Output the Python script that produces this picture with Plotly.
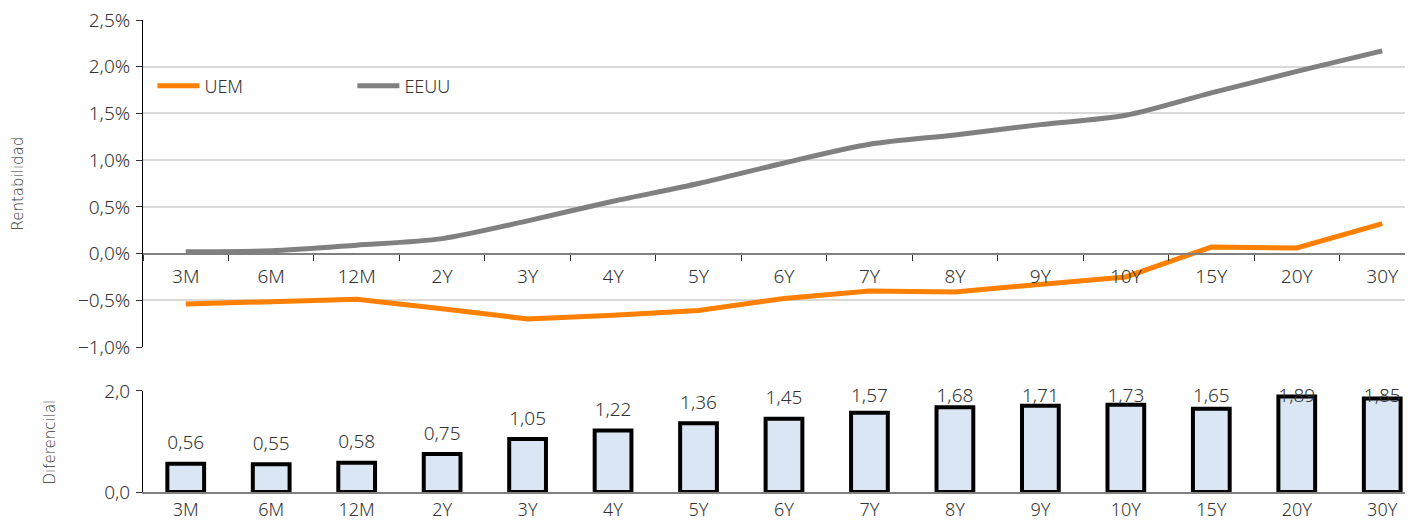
import plotly.graph_objects as go
import numpy as np

categories = ["3M", "6M", "12M", "2Y", "3Y", "4Y", "5Y", "6Y", "7Y", "8Y", "9Y", "10Y", "15Y", "20Y", "30Y"]
uem = [-0.54, -0.52, -0.49, -0.59, -0.70, -0.66, -0.61, -0.48, -0.40, -0.41, -0.33, -0.25, 0.07, 0.06, 0.32]
eeuu = [0.02, 0.03, 0.09, 0.16, 0.35, 0.56, 0.75, 0.97, 1.17, 1.27, 1.38, 1.48, 1.72, 1.95, 2.17]
diferencial = [0.56, 0.55, 0.58, 0.75, 1.05, 1.22, 1.36, 1.45, 1.57, 1.68, 1.71, 1.73, 1.65, 1.89, 1.85]

FONT = "Noto Sans"
FW = 300
TXT = "#333333"
# page has an 8px body margin: figure occupies page pixels 8..1413 x 8..520
W, H = 1405, 512
ML, MR, MT, MB = 135, 0, 12, 28
PW = W - ML - MR
top_dom = [0.3072, 1.0]
bot_dom = [0.0, 0.214]
top_rng = [-1.0, 2.5]
bot_rng = [0.0, 2.0]
zero_pos = top_dom[0] + (0 - top_rng[0]) / (top_rng[1] - top_rng[0]) * (top_dom[1] - top_dom[0])
xr = [-0.5, 14.36]

tf = dict(family=FONT, size=19, color=TXT, weight=FW)

fig = go.Figure()
fig.add_trace(go.Scatter(x=categories, y=uem, name="UEM", mode="lines",
                         line=dict(color="#FF8000", width=5), xaxis="x", yaxis="y"))
fig.add_trace(go.Scatter(x=categories, y=eeuu, name="EEUU", mode="lines",
                         line=dict(color="#808080", width=5, shape="spline", smoothing=0.8),
                         xaxis="x", yaxis="y"))
fig.add_trace(go.Bar(x=categories, y=diferencial, width=0.43, showlegend=False,
                     marker=dict(color="#DAE6F4", line=dict(color="#000000", width=4)),
                     xaxis="x2", yaxis="y2"))
# data labels, clamped inside the plot area like the original
lab_y = np.minimum(np.array(diferencial) + 0.38, 1.88)
fig.add_trace(go.Scatter(x=categories, y=lab_y, mode="text", showlegend=False,
                         text=[f"{v:.2f}".replace(".", ",") for v in diferencial],
                         textfont=dict(family=FONT, size=19, color=TXT, weight=FW),
                         textposition="middle center", cliponaxis=False,
                         xaxis="x2", yaxis="y2"))

fig.update_layout(
    width=W, height=H, autosize=False,
    margin=dict(l=ML, r=MR, t=MT, b=MB, pad=0, autoexpand=False),
    paper_bgcolor="white", plot_bgcolor="white",
    separators=",.",
    font=tf,
    showlegend=True,
    legend=dict(orientation="h", x=0.0074, y=0.86, xanchor="left", yanchor="middle",
                entrywidth=143, itemwidth=42,
                font=dict(family=FONT, size=18, color=TXT, weight=FW),
                bgcolor="rgba(0,0,0,0)"),
    xaxis=dict(domain=[0, 1], range=xr, anchor="free", position=zero_pos, automargin=False,
               showline=True, linecolor="#808080", linewidth=2,
               ticks="outside", tickson="boundaries", ticklen=6, tickcolor="#333333",
               ticklabelstandoff=6, showgrid=False, zeroline=False, tickfont=tf),
    yaxis=dict(domain=top_dom, range=top_rng, tick0=0, dtick=0.5, tickformat=".1f", ticksuffix="%",
               automargin=False, ticklabeloverflow="allow",
               showline=True, linecolor="#000000", linewidth=1,
               ticks="outside", ticklen=6, tickcolor="#333333", ticklabelstandoff=2,
               showgrid=True, gridcolor="#D9D9D9", gridwidth=1.5, zeroline=False, tickfont=tf),
    xaxis2=dict(domain=[0, 1], range=xr, anchor="y2", automargin=False, ticklabeloverflow="allow",
                showline=True, linecolor="#808080", linewidth=2, ticks="",
                showgrid=False, zeroline=False, ticklabelstandoff=0,
                tickfont=dict(family=FONT, size=18, color=TXT, weight=FW)),
    yaxis2=dict(domain=bot_dom, range=bot_rng, dtick=2, tickformat=".1f",
                automargin=False, ticklabeloverflow="allow",
                showline=True, linecolor="#000000", linewidth=1,
                ticks="outside", ticklen=6, tickcolor="#333333", ticklabelstandoff=2,
                showgrid=True, gridcolor="#D9D9D9", gridwidth=1.5, zeroline=False, tickfont=tf),
    annotations=[
        dict(text="Rentabilidad", xref="paper", yref="paper", x=-125 / PW,
             y=(top_dom[0] + top_dom[1]) / 2, textangle=-90, showarrow=False,
             xanchor="center", yanchor="middle",
             font=dict(family="DejaVu Sans, Verdana, sans-serif", size=15, color=TXT)),
        dict(text="Diferencilal", xref="paper", yref="paper", x=-93 / PW,
             y=(bot_dom[0] + bot_dom[1]) / 2, textangle=-90, showarrow=False,
             xanchor="center", yanchor="middle",
             font=dict(family="DejaVu Sans, Verdana, sans-serif", size=15, color=TXT)),
    ],
)

fig.write_html("out.html")
